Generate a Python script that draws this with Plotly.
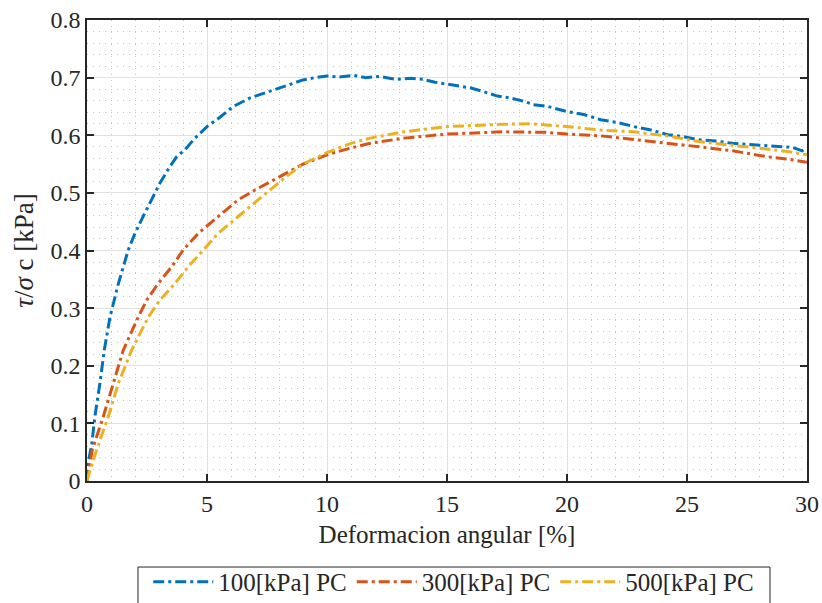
import plotly.graph_objects as go

# ---- data ----
x_100 = [0, 0.05, 0.2, 0.33, 0.54, 0.72, 0.96, 1.31, 1.72, 2.0, 2.35, 2.7, 3.04, 3.46, 3.74, 4.08,
         4.5, 5.0, 5.5, 6.1, 6.8, 7.6, 8.3, 9.0, 9.5, 10.0, 10.5, 11.1, 11.6, 12.2, 12.6, 12.9,
         13.5, 14.0, 14.5, 15.0, 15.5, 16.0, 16.5, 17.1, 17.6, 18.2, 18.6, 19.2, 20.0, 20.7,
         21.4, 22.1, 22.8, 23.5, 24.2, 24.8, 25.5, 26.2, 26.9, 27.6, 28.3, 28.9, 29.4, 29.8, 30]
y_100 = [0, 0.031, 0.065, 0.112, 0.170, 0.227, 0.285, 0.343, 0.401, 0.43, 0.46, 0.488, 0.517,
         0.546, 0.563, 0.575, 0.595, 0.615, 0.630, 0.650, 0.665, 0.676, 0.686, 0.696, 0.700,
         0.703, 0.701, 0.704, 0.700, 0.702, 0.699, 0.697, 0.699, 0.697, 0.692, 0.689, 0.686,
         0.682, 0.676, 0.668, 0.665, 0.659, 0.653, 0.650, 0.641, 0.636, 0.627, 0.622, 0.615,
         0.609, 0.601, 0.598, 0.592, 0.590, 0.586, 0.584, 0.582, 0.580, 0.579, 0.573, 0.578]

x_300 = [0, 0.22, 0.68, 1.10, 1.51, 2.14, 2.49, 2.97, 3.53, 4.01, 4.64, 5.47, 6.3, 7.0, 8.25,
         9.0, 10.0, 11.0, 11.8, 13.2, 15.0, 17.3, 19.15, 20.0, 21.4, 22.76, 24.15, 25.5, 26.9,
         28.3, 29.3, 30]
y_300 = [0, 0.054, 0.112, 0.170, 0.227, 0.285, 0.314, 0.343, 0.372, 0.401, 0.430, 0.459, 0.488,
         0.505, 0.534, 0.550, 0.566, 0.578, 0.586, 0.595, 0.602, 0.606, 0.605, 0.602, 0.599,
         0.593, 0.586, 0.580, 0.573, 0.563, 0.558, 0.553]

x_500 = [0, 0.04, 0.40, 0.89, 1.31, 1.86, 2.56, 3.04, 3.67, 4.22, 4.85, 5.47, 6.30, 7.14, 8.2,
         9.0, 10.0, 11.0, 11.8, 13.2, 15.0, 17.3, 18.5, 20.0, 21.4, 22.76, 24.15, 25.5, 26.9,
         28.3, 29.2, 30]
y_500 = [0, 0.007, 0.054, 0.112, 0.170, 0.227, 0.285, 0.314, 0.343, 0.372, 0.401, 0.430, 0.459,
         0.488, 0.525, 0.550, 0.570, 0.586, 0.595, 0.606, 0.615, 0.619, 0.620, 0.615, 0.609,
         0.606, 0.599, 0.589, 0.582, 0.576, 0.572, 0.566]

series_names = ["100[kPa] PC", "300[kPa] PC", "500[kPa] PC"]
x_ticks = [0, 5, 10, 15, 20, 25, 30]
x_ticklabels = ["0", "5", "10", "15", "20", "25", "30"]
y_ticks = [0, 0.1, 0.2, 0.3, 0.4, 0.5, 0.6, 0.7, 0.8]
y_ticklabels = ["0", "0.1", "0.2", "0.3", "0.4", "0.5", "0.6", "0.7", "0.8"]

colors = ["#0072BD", "#D95319", "#EDB120"]
FONT = "Liberation Serif"
INK = "#262626"
dash = "11px,4px,3px,4px"

fig = go.Figure()
for xs, ys, name, c in zip([x_100, x_300, x_500], [y_100, y_300, y_500], series_names, colors):
    fig.add_trace(go.Scatter(x=xs, y=ys, mode="lines", name=name,
                             line=dict(color=c, width=3, dash=dash)))

axis_common = dict(
    showline=True, linecolor=INK, linewidth=1.5, mirror="ticks",
    ticks="inside", ticklen=7, tickwidth=1.5, tickcolor=INK,
    showgrid=True, gridcolor="#e0e0e0", gridwidth=1,
    zeroline=False, automargin=False,
    tickfont=dict(family=FONT, size=24, color=INK),
)
minor_style = dict(showgrid=True, gridcolor="#c4c4c4", griddash="1px,5px", gridwidth=1)

fig.update_xaxes(range=[0, 30], tickvals=x_ticks, ticktext=x_ticklabels,
                 minor=dict(dtick=1, **minor_style),
                 title=dict(text="Deformacion angular [%]", font=dict(family=FONT, size=25, color=INK),
                            standoff=10),
                 **axis_common)
fig.update_yaxes(range=[0, 0.8], tickvals=y_ticks, ticktext=y_ticklabels,
                 minor=dict(dtick=0.02, **minor_style),
                 title=dict(text="<i>τ</i>/<i>σ</i> c [kPa]", font=dict(family=FONT, size=27, color=INK),
                            standoff=9),
                 **axis_common)

# legend frame (box drawn in paper coordinates, below the axes)
fig.add_shape(type="rect", xref="paper", yref="paper",
              x0=0.0708, x1=0.9486, y0=-0.1866, y1=-0.29,
              line=dict(color=INK, width=1), fillcolor="rgba(0,0,0,0)", layer="above")

fig.update_layout(
    width=822, height=603,
    margin=dict(l=87, r=15, t=20, b=122),
    paper_bgcolor="white", plot_bgcolor="white",
    font=dict(family=FONT, size=24, color=INK),
    legend=dict(orientation="h", x=0.552, xref="container", xanchor="center",
                y=0.073, yref="container", yanchor="top",
                borderwidth=0, bgcolor="rgba(0,0,0,0)",
                font=dict(family=FONT, size=25, color=INK),
                itemwidth=60, tracegroupgap=0),
    showlegend=True,
)

fig.write_html("out.html", config={"displayModeBar": False},
               post_script="document.body.style.margin='0';")
